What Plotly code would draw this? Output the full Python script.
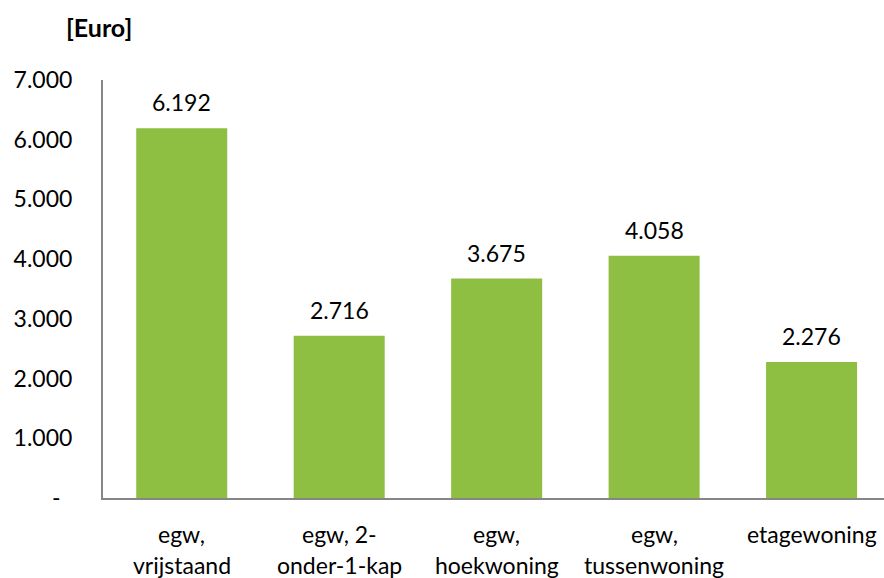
import plotly.graph_objects as go

categories = ["egw, vrijstaand", "egw, 2-onder-1-kap", "egw, hoekwoning", "egw, tussenwoning", "etagewoning"]
label_lines = [["egw,", "vrijstaand"], ["egw, 2-", "onder-1-kap"], ["egw,", "hoekwoning"], ["egw,", "tussenwoning"], ["etagewoning"]]
values = [6192, 2716, 3675, 4058, 2276]
tick_vals = [0, 1000, 2000, 3000, 4000, 5000, 6000, 7000]
tick_text = ["-\u00a0\u00a0", "1.000", "2.000", "3.000", "4.000", "5.000", "6.000", "7.000"]

FONT = "Lato, 'Open Sans', sans-serif"
GREEN = "#8EBF42"
FS = 23

def fmt(v):
    return f"{v:,}".replace(",", ".")

x = list(range(len(categories)))

fig = go.Figure()
fig.add_trace(go.Bar(x=x, y=values, width=0.578, marker=dict(color=GREEN, line=dict(width=0)),
                     hoverinfo="skip"))

annotations = []
for i, v in enumerate(values):
    annotations.append(dict(x=i, y=v, xref="x", yref="y", text=fmt(v), showarrow=False,
                            yanchor="bottom", yshift=10, font=dict(family=FONT, size=FS, color="#000")))
for i, lines in enumerate(label_lines):
    for j, line in enumerate(lines):
        annotations.append(dict(x=i, y=0, xref="x", yref="paper", text=line, showarrow=False,
                                yanchor="middle", yshift=-36 - 31 * j,
                                font=dict(family=FONT, size=FS, color="#000")))
annotations.append(dict(x=(99 - 103) / 781, y=1 + (80 - 27) / 418, xref="paper", yref="paper",
                        text="<b>[Euro]</b>", showarrow=False, xanchor="center", yanchor="middle",
                        font=dict(family=FONT, size=25, color="#000")))

fig.update_layout(
    width=884, height=578,
    margin=dict(l=103, r=0, t=80, b=80),
    plot_bgcolor="white", paper_bgcolor="white",
    showlegend=False,
    annotations=annotations,
    font=dict(family=FONT, size=FS, color="#000"),
)

fig.update_xaxes(range=[-0.5, 4.46], showticklabels=False, showline=True, linecolor="#868686", linewidth=2,
                 ticks="", showgrid=False, zeroline=False, fixedrange=True)
fig.update_yaxes(range=[0, 7000], tickvals=tick_vals, ticktext=tick_text, showline=True,
                 linecolor="#868686", linewidth=2, ticks="", showgrid=False, zeroline=False,
                 ticklabelstandoff=24, tickfont=dict(family=FONT, size=FS, color="#000"), fixedrange=True)

fig.write_html("out.html", config={"displayModeBar": False},
               post_script="document.body.style.margin='0px';document.body.style.overflow='hidden';")
